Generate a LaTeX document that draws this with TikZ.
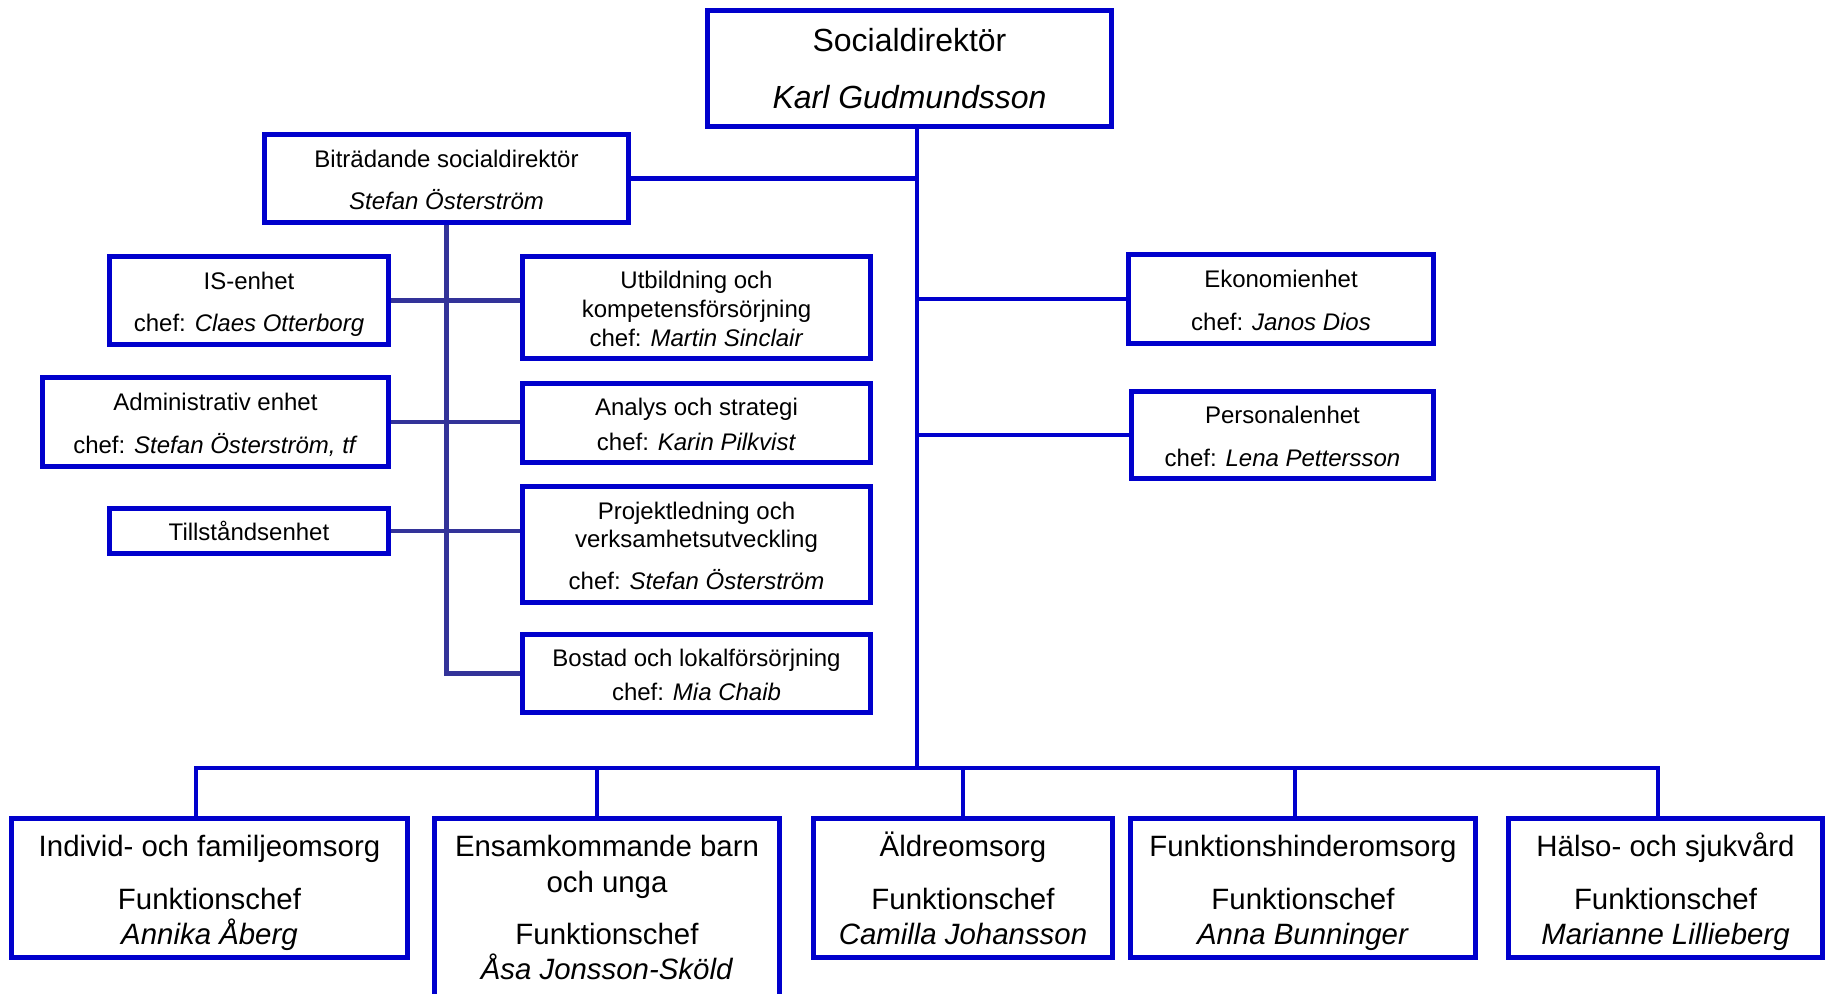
\documentclass[tikz,border=0pt]{standalone}
\usepackage{fontspec}
\setmainfont{Liberation Sans}

\definecolor{rutblue}{HTML}{0000CC}
\definecolor{grenblue}{HTML}{333399}

% radhojd som i originalet
\newcommand{\topprad}{\rule{0pt}{1.05em}}
\newcommand{\bottenrad}{\rule[-0.212em]{0pt}{0pt}}

\tikzset{
  ruta/.style={draw=rutblue, line width=2.6pt, inner sep=0pt, align=center, fill=white},
  liten/.style={ruta, font=\fontsize{12}{14.4}\selectfont},
  stor/.style={ruta, font=\fontsize{14.7}{17.6}\selectfont},
  huvud/.style={ruta, font=\fontsize{16}{19.2}\selectfont},
  linje/.style={draw=rutblue, line width=2.2pt},
  grenlinje/.style={draw=grenblue, line width=2.2pt}
}

\begin{document}
\begin{tikzpicture}[x=0.5pt, y=-0.5pt]
\useasboundingbox (0,0) rectangle (1832,994);

% Ledning
\node[huvud, minimum width=202pt, minimum height=58pt] (direktor) at (909.5,68.5)
  {Socialdirektör\\[9.4pt]\textit{Karl Gudmundsson}};
\node[liten, minimum width=182pt, minimum height=44pt] (bitr) at (446.5,178.5)
  {\topprad Biträdande socialdirektör\\[6.7pt]\textit{Stefan Österström}\bottenrad};

% Enheter under biträdande
\node[liten, minimum width=139.5pt, minimum height=44pt] (is) at (249,300.5)
  {\topprad IS-enhet\\[7pt]chef: \textit{Claes Otterborg}\bottenrad};
\node[liten, minimum width=173pt, minimum height=44.5pt] (adm) at (215.5,422)
  {\topprad Administrativ enhet\\[7pt]chef: \textit{Stefan Österström, tf}\bottenrad};
\node[liten, minimum width=139.5pt, minimum height=22.5pt] (till) at (249,531)
  {Tillståndsenhet};
\node[liten, minimum width=174pt, minimum height=51pt] (utb) at (696.5,307.5)
  {\topprad Utbildning och\\kompetensförsörjning\\chef: \textit{Martin Sinclair}\bottenrad};
\node[liten, minimum width=174pt, minimum height=39.5pt] (analys) at (696.5,423)
  {\topprad Analys och strategi\\[3pt]chef: \textit{Karin Pilkvist}\bottenrad};
\node[liten, minimum width=174pt, minimum height=58pt] (projekt) at (696.5,544.5)
  {\topprad Projektledning och\\verksamhetsutveckling\\[6.6pt]chef: \textit{Stefan Österström}\bottenrad};
\node[liten, minimum width=174pt, minimum height=39pt] (bostad) at (696.5,673.5)
  {\topprad Bostad och lokalförsörjning\\[3pt]chef: \textit{Mia Chaib}\bottenrad};

% Staber
\node[liten, minimum width=152.5pt, minimum height=44.5pt] (ekonomi) at (1281,299)
  {\topprad Ekonomienhet\\[7pt]chef: \textit{Janos Dios}\bottenrad};
\node[liten, minimum width=151pt, minimum height=43.5pt] (personal) at (1282.5,435)
  {\topprad Personalenhet\\[7pt]chef: \textit{Lena Pettersson}\bottenrad};

% Funktioner
\node[stor, minimum width=198pt, minimum height=69.5pt] (ifo) at (209.5,888)
  {\topprad Individ- och familjeomsorg\\[8.7pt]Funktionschef\\\textit{Annika Åberg}\bottenrad};
\node[stor, minimum width=172.5pt, minimum height=95pt] (ensam) at (607,913.5)
  {\topprad Ensamkommande barn\\och unga\\[8.7pt]Funktionschef\\\textit{Åsa Jonsson-Sköld}\rule[-10.6pt]{0pt}{0pt}};
\node[stor, minimum width=149.5pt, minimum height=69.5pt] (aldre) at (963,888)
  {\topprad Äldreomsorg\\[8.7pt]Funktionschef\\\textit{Camilla Johansson}\bottenrad};
\node[stor, minimum width=172.5pt, minimum height=69.5pt] (funk) at (1303,888)
  {\topprad Funktionshinderomsorg\\[8.7pt]Funktionschef\\\textit{Anna Bunninger}\bottenrad};
\node[stor, minimum width=157pt, minimum height=69.5pt] (halso) at (1665.5,888)
  {\topprad Hälso- och sjukvård\\[8.7pt]Funktionschef\\\textit{Marianne Lillieberg}\bottenrad};

% Linjer
\coordinate (spine) at (917,768);
\coordinate (buss1) at (196,768);
\coordinate (buss2) at (597,768);
\coordinate (buss3) at (963,768);
\coordinate (buss4) at (1295,768);
\coordinate (buss5) at (1658,768);

\draw[linje] (direktor.south -| spine) -- (spine);
\draw[linje] (bitr.east) -- (bitr.east -| spine);
\draw[linje] (ekonomi.west) -- (ekonomi.west -| spine);
\draw[linje] (personal.west) -- (personal.west -| spine);
\draw[linje] (ifo.north -| buss1) -- (buss1) -- (buss5) -- (halso.north -| buss5);
\draw[linje] (buss2) -- (ensam.north -| buss2);
\draw[linje] (buss3) -- (aldre.north -| buss3);
\draw[linje] (buss4) -- (funk.north -| buss4);

\draw[grenlinje] (bitr.south) -- (bitr.south |- bostad.west) -- (bostad.west);
\draw[grenlinje] (is.east) -- (is.east -| utb.west);
\draw[grenlinje] (adm.east) -- (adm.east -| analys.west);
\draw[grenlinje] (till.east) -- (till.east -| projekt.west);

\end{tikzpicture}
\end{document}
